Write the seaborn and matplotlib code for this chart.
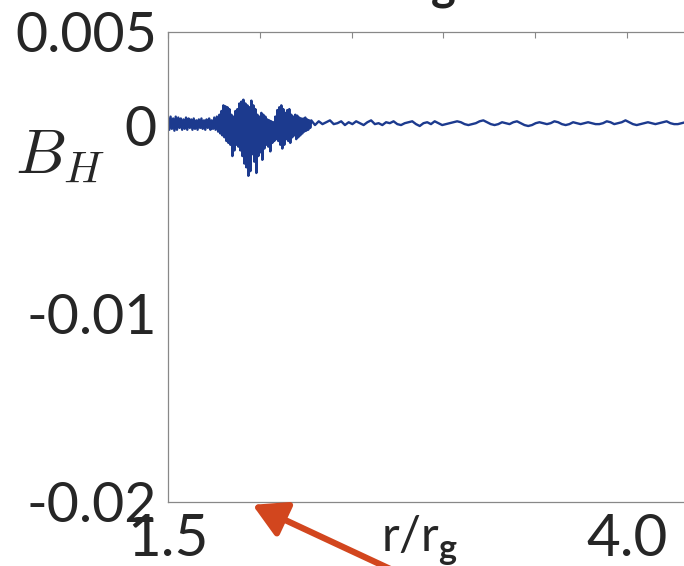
import numpy as np
import pandas as pd
import seaborn as sns
import matplotlib.pyplot as plt

# B_H, in units of 1e-3
# quiet noisy band near the inner edge (r = 1.5 .. 1.78)
b_inner = [0.45, -0.2, 0.5, -0.15, 0.4, -0.25, 0.5, -0.2, 0.45, -0.1,
           0.4, -0.2, 0.35, -0.15, 0.45, -0.2, 0.4, -0.1, 0.35, -0.2,
           0.4, -0.15, 0.3, -0.2, 0.35, -0.1, 0.4, -0.15, 0.3, -0.2,
           0.35, -0.1, 0.4, -0.2, 0.3, -0.15, 0.45, -0.2, 0.5, -0.3]
# burst (r = 1.78 .. 2.28), upper / lower swings
b_burst = [0.6, -0.4, 0.8, -0.5, 1.1, -0.6, 1.05, -0.8, 1.0, -0.9,
           0.9, -1.0, 0.6, -1.6, 0.5, -1.3, 0.8, -1.0, 0.9, -1.1,
           1.2, -1.3, 1.3, -1.6, 1.4, -2.0, 1.2, -2.2, 1.1, -2.65,
           1.0, -2.4, 1.35, -1.5, 1.1, -1.9, 0.9, -2.5, 0.6, -1.6,
           0.5, -1.4, 0.7, -1.8, 0.6, -1.2, 0.5, -1.0, 0.35, -1.1,
           0.3, -1.35, 0.25, -0.9, 0.2, -0.8, 0.5, -0.7, 0.85, -0.8,
           1.0, -1.0, 1.1, -1.2, 0.9, -1.0, 0.7, -0.7, 0.85, -0.8,
           0.9, -0.9, 0.6, -0.6, 0.5, -0.5, 0.6, -0.7, 0.55, -0.6,
           0.45, -0.5, 0.4, -0.4, 0.4, -0.3, 0.45, -0.25, 0.35, -0.2,
           0.3, -0.1]
# small wiggles further out (r = 2.28 .. 4.5)
b_outer = [0.3, 0.05, 0.25, 0.1, 0.2, 0.3, 0.1, 0.15, 0.25, 0.05,
           0.2, 0.1, 0.25, 0.15, 0.05, 0.2, 0.3, 0.1, 0.15, 0.05,
           0.2, 0.15, 0.25, 0.1, 0.05, 0.15, 0.2, 0.25, 0.1, 0.0,
           0.15, 0.2, 0.1, 0.25, 0.15, 0.05, 0.1,
           0.15, 0.2, 0.25, 0.2, 0.1, 0.05, 0.1, 0.15, 0.25, 0.3,
           0.2, 0.1, 0.05, 0.1, 0.2, 0.15, 0.1, 0.2, 0.25, 0.15,
           0.05, 0.0, 0.05, 0.15, 0.2, 0.15, 0.1, 0.15, 0.25, 0.2,
           0.1, 0.05, 0.1, 0.2, 0.15, 0.1, 0.15, 0.2, 0.15, 0.1,
           0.1, 0.15, 0.25, 0.2, 0.1, 0.15, 0.2, 0.3, 0.2, 0.1,
           0.05, 0.1, 0.15, 0.2, 0.15, 0.1, 0.15, 0.2, 0.25, 0.15,
           0.1, 0.1, 0.15, 0.2, 0.15, 0.1, 0.15, 0.2, 0.2, 0.15,
           0.1, 0.15, 0.2]

r_inner = np.linspace(1.5, 1.78, len(b_inner), endpoint=False)
r_burst = np.linspace(1.78, 2.28, len(b_burst), endpoint=False)
r_outer = np.linspace(2.28, 4.5, len(b_outer))

yticks = [-0.02, -0.01, 0, 0.005]
ytick_labels = ['-0.02', '-0.01', '0', '0.005']
xticks = [1.5, 2.0, 2.5, 3.0, 3.5, 4.0, 4.5]
xtick_labels = ['1.5', '', '', '', '', '4.0', '']

df = pd.DataFrame({
    'r': np.concatenate([r_inner, r_burst, r_outer]),
    'B': np.concatenate([b_inner, b_burst, b_outer]) * 1e-3,
})

sns.set_style('white')
plt.rcParams['font.family'] = ['Lato', 'DejaVu Sans']
plt.rcParams['mathtext.fontset'] = 'custom'
plt.rcParams['mathtext.rm'] = 'Lato'
plt.rcParams['mathtext.bf'] = 'Lato:bold'

fig = plt.figure(figsize=(6.84, 5.66), dpi=100)
ax = fig.add_axes([168 / 684, 64 / 566, 551 / 684, 470 / 566])

sns.lineplot(data=df, x='r', y='B', ax=ax, color='#1c3a8e', lw=1.7,
             estimator=None, sort=False)

ax.set_xlim(1.5, 4.5)
ax.set_ylim(-0.02, 0.005)
ax.set_yticks(yticks)
ax.set_yticklabels(ytick_labels)
ax.set_yticks([-0.015, -0.005], minor=True)
ax.set_xticks(xticks)
ax.set_xticklabels(xtick_labels)
ax.tick_params(axis='y', which='both', direction='in', length=4, color='#888888',
               labelsize=40, pad=8, right=True)
ax.tick_params(axis='x', direction='in', length=4, color='#888888',
               labelsize=42, pad=8, top=True)
for s in ax.spines.values():
    s.set_color('#888888')
    s.set_linewidth(0.9)
ax.set_xlabel('')
ax.set_ylabel('')

fig.text(420 / 684, 26 / 566, r'r/r$_\mathbf{g}$', fontsize=35,
         ha='center', va='center')
fig.text(60 / 684, 410 / 566, r'$B_H$', fontsize=46, ha='center', va='center',
         math_fontfamily='cm')
fig.text(443 / 684, 1 + 1 / 566, 'g', fontsize=34, fontweight='bold',
         ha='center', va='baseline', color='#222222')

ax.annotate('', xy=(1.96, -0.02015), xytext=(2.74, -0.0237),
            arrowprops=dict(arrowstyle='-|>,head_length=0.5,head_width=0.28',
                            color='#d2461e', lw=4.5, mutation_scale=40,
                            shrinkA=0, shrinkB=0),
            annotation_clip=False)

fig.savefig('out.png', dpi=100)
